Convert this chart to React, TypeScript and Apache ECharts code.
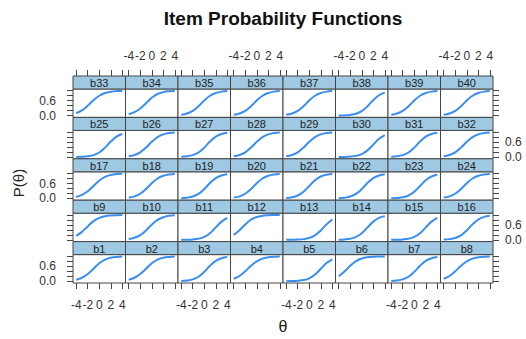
import React, { useEffect, useRef } from "react";
import * as echarts from "echarts";

const chartTitle = "Item Probability Functions";
const xAxisTitle = "θ";
const yAxisTitle = "P(θ)";
const thetaValues = [-4, -3, -2, -1, 0, 1, 2, 3, 4];
const xTickValues = [-4, -2, 0, 2, 4];
const yTickValues = [0, 0.2, 0.4, 0.6, 0.8, 1.0];
const yLabelValues = [0, 0.6];
const itemLabels = Array.from({ length: 40 }, (_, i) => "b" + (i + 1));

// probability at theta = -4..4
const itemCurves: number[][] = [
  [0.06, 0.14, 0.29, 0.5, 0.72, 0.87, 0.945, 0.978, 0.99], // b1
  [0.06, 0.14, 0.29, 0.5, 0.72, 0.87, 0.945, 0.978, 0.99], // b2
  [0.011, 0.029, 0.076, 0.182, 0.378, 0.622, 0.818, 0.924, 0.971], // b3
  [0.1, 0.21, 0.4, 0.62, 0.8, 0.91, 0.96, 0.985, 0.994], // b4
  [0.0025, 0.007, 0.018, 0.047, 0.119, 0.269, 0.5, 0.731, 0.881], // b5
  [0.2, 0.39, 0.62, 0.81, 0.915, 0.965, 0.986, 0.995, 0.998], // b6
  [0.011, 0.029, 0.076, 0.182, 0.378, 0.622, 0.818, 0.924, 0.971], // b7
  [0.1, 0.21, 0.4, 0.62, 0.8, 0.91, 0.96, 0.985, 0.994], // b8
  [0.16, 0.32, 0.54, 0.75, 0.88, 0.95, 0.98, 0.992, 0.997], // b9
  [0.035, 0.085, 0.19, 0.38, 0.61, 0.8, 0.91, 0.965, 0.986], // b10
  [0.0025, 0.007, 0.018, 0.047, 0.119, 0.269, 0.5, 0.731, 0.881], // b11
  [0.2, 0.39, 0.62, 0.81, 0.915, 0.965, 0.986, 0.995, 0.998], // b12
  [0.0015, 0.004, 0.011, 0.029, 0.076, 0.182, 0.378, 0.622, 0.818], // b13
  [0.007, 0.018, 0.047, 0.119, 0.269, 0.5, 0.731, 0.881, 0.953], // b14
  [0.0025, 0.007, 0.018, 0.047, 0.119, 0.269, 0.5, 0.731, 0.881], // b15
  [0.011, 0.029, 0.076, 0.182, 0.378, 0.622, 0.818, 0.924, 0.971], // b16
  [0.06, 0.14, 0.29, 0.5, 0.72, 0.87, 0.945, 0.978, 0.99], // b17
  [0.035, 0.085, 0.19, 0.38, 0.61, 0.8, 0.91, 0.965, 0.986], // b18
  [0.011, 0.029, 0.076, 0.182, 0.378, 0.622, 0.818, 0.924, 0.971], // b19
  [0.035, 0.085, 0.19, 0.38, 0.61, 0.8, 0.91, 0.965, 0.986], // b20
  [0.018, 0.047, 0.119, 0.269, 0.5, 0.731, 0.881, 0.953, 0.982], // b21
  [0.011, 0.029, 0.076, 0.182, 0.378, 0.622, 0.818, 0.924, 0.971], // b22
  [0.007, 0.018, 0.047, 0.119, 0.269, 0.5, 0.731, 0.881, 0.953], // b23
  [0.035, 0.085, 0.19, 0.38, 0.61, 0.8, 0.91, 0.965, 0.986], // b24
  [0.004, 0.011, 0.029, 0.076, 0.182, 0.378, 0.622, 0.818, 0.924], // b25
  [0.035, 0.085, 0.19, 0.38, 0.61, 0.8, 0.91, 0.965, 0.986], // b26
  [0.011, 0.029, 0.076, 0.182, 0.378, 0.622, 0.818, 0.924, 0.971], // b27
  [0.035, 0.085, 0.19, 0.38, 0.61, 0.8, 0.91, 0.965, 0.986], // b28
  [0.035, 0.085, 0.19, 0.38, 0.61, 0.8, 0.91, 0.965, 0.986], // b29
  [0.0025, 0.007, 0.018, 0.047, 0.119, 0.269, 0.5, 0.731, 0.881], // b30
  [0.011, 0.029, 0.076, 0.182, 0.378, 0.622, 0.818, 0.924, 0.971], // b31
  [0.035, 0.085, 0.19, 0.38, 0.61, 0.8, 0.91, 0.965, 0.986], // b32
  [0.1, 0.21, 0.4, 0.62, 0.8, 0.91, 0.96, 0.985, 0.994], // b33
  [0.06, 0.14, 0.29, 0.5, 0.72, 0.87, 0.945, 0.978, 0.99], // b34
  [0.035, 0.085, 0.19, 0.38, 0.61, 0.8, 0.91, 0.965, 0.986], // b35
  [0.035, 0.085, 0.19, 0.38, 0.61, 0.8, 0.91, 0.965, 0.986], // b36
  [0.035, 0.085, 0.19, 0.38, 0.61, 0.8, 0.91, 0.965, 0.986], // b37
  [0.004, 0.011, 0.029, 0.076, 0.182, 0.378, 0.622, 0.818, 0.924], // b38
  [0.035, 0.085, 0.19, 0.38, 0.61, 0.8, 0.91, 0.965, 0.986], // b39
  [0.035, 0.085, 0.19, 0.38, 0.61, 0.8, 0.91, 0.965, 0.986], // b40
];

const NCOL = 8;
const NROW = 5;
const LEFT0 = 73;
const COLW = 52.5;
const TOP0 = 76;
const ROWH = 41.4;
const STRIPH = 13;
const XMIN = -4.56;
const XMAX = 4.56;
const YMIN = -0.07;
const YMAX = 1.07;
const FONT = "Liberation Sans, Arial, sans-serif";
const BORDER = "#444";
const STRIP_FILL = "#9fc9e3";
const LINE_COLOR = "#3a8ef0";
const TEXT_COLOR = "#333";

export default function App() {
  const ref = useRef<HTMLDivElement>(null);
  useEffect(() => {
    if (!ref.current) return;
    const chart = echarts.init(ref.current, null, { renderer: "svg" });
    const grids: any[] = [];
    const xAxes: any[] = [];
    const yAxes: any[] = [];
    const series: any[] = [];
    const graphics: any[] = [];

    const tickStyle = { show: true, length: 6, inside: false, lineStyle: { color: BORDER, width: 1 } };
    const noLine = { show: false, onZero: false };

    itemLabels.forEach((label, i) => {
      const col = i % NCOL;
      const r = NROW - 1 - Math.floor(i / NCOL);
      const left = LEFT0 + col * COLW;
      const rowTop = TOP0 + r * ROWH;
      const gIdx = grids.length;
      grids.push({
        left,
        top: rowTop + STRIPH,
        width: COLW,
        height: ROWH - STRIPH,
        show: true,
        borderColor: BORDER,
        borderWidth: 1,
        backgroundColor: "#fff",
        containLabel: false,
      });
      const xIdx = xAxes.length;
      const isBottom = r === NROW - 1;
      xAxes.push({
        gridIndex: gIdx,
        type: "value",
        min: XMIN,
        max: XMAX,
        position: "bottom",
        show: isBottom,
        axisLine: noLine,
        axisTick: { ...tickStyle, customValues: xTickValues },
        axisLabel: {
          show: isBottom && col % 2 === 0,
          customValues: xTickValues,
          fontSize: 12,
          fontFamily: FONT,
          color: TEXT_COLOR,
          margin: 16,
          formatter: (v: number) => String(v),
        },
        splitLine: { show: false },
      });
      if (r === 0) {
        xAxes.push({
          gridIndex: gIdx,
          type: "value",
          min: XMIN,
          max: XMAX,
          position: "top",
          offset: STRIPH,
          axisLine: noLine,
          axisTick: { ...tickStyle, customValues: xTickValues },
          axisLabel: {
            show: col % 2 === 1,
            customValues: xTickValues,
            fontSize: 12,
            fontFamily: FONT,
            color: TEXT_COLOR,
            margin: 14,
            formatter: (v: number) => String(v),
          },
          splitLine: { show: false },
        });
      }
      const yIdx = yAxes.length;
      const isLeft = col === 0;
      yAxes.push({
        gridIndex: gIdx,
        type: "value",
        min: YMIN,
        max: YMAX,
        position: "left",
        show: isLeft,
        axisLine: noLine,
        axisTick: { ...tickStyle, customValues: yTickValues },
        axisLabel: {
          show: isLeft && r % 2 === 0,
          customValues: yLabelValues,
          fontSize: 12,
          fontFamily: FONT,
          color: TEXT_COLOR,
          margin: 17,
          formatter: (v: number) => v.toFixed(1),
        },
        splitLine: { show: false },
      });
      if (col === NCOL - 1) {
        yAxes.push({
          gridIndex: gIdx,
          type: "value",
          min: YMIN,
          max: YMAX,
          position: "right",
          axisLine: noLine,
          axisTick: { ...tickStyle, customValues: yTickValues },
          axisLabel: {
            show: r % 2 === 1,
            customValues: yLabelValues,
            fontSize: 12,
            fontFamily: FONT,
            color: TEXT_COLOR,
            margin: 12,
            formatter: (v: number) => v.toFixed(1),
          },
          splitLine: { show: false },
        });
      }
      series.push({
        type: "line",
        xAxisIndex: xIdx,
        yAxisIndex: yIdx,
        data: thetaValues.map((t, k) => [t, itemCurves[i][k]]),
        showSymbol: false,
        smooth: 0.4,
        lineStyle: { color: LINE_COLOR, width: 2 },
        silent: true,
      });
      graphics.push({
        type: "rect",
        shape: { x: left, y: rowTop, width: COLW, height: STRIPH },
        style: { fill: STRIP_FILL, stroke: BORDER, lineWidth: 1 },
        z: 10,
      });
      graphics.push({
        type: "text",
        x: left + COLW / 2,
        y: rowTop + STRIPH / 2 + 0.5,
        style: {
          text: label,
          fill: "#222",
          font: `11px ${FONT}`,
          align: "center",
          verticalAlign: "middle",
        },
        z: 11,
      });
    });

    graphics.push({
      type: "text",
      x: 283,
      y: 18,
      style: {
        text: chartTitle,
        fill: "#111",
        font: `bold 19px ${FONT}`,
        align: "center",
        verticalAlign: "middle",
      },
    });
    graphics.push({
      type: "text",
      x: 283,
      y: 326,
      style: {
        text: xAxisTitle,
        fill: "#222",
        font: `16px ${FONT}`,
        align: "center",
        verticalAlign: "middle",
      },
    });
    graphics.push({
      type: "text",
      x: 18,
      y: 183,
      rotation: Math.PI / 2,
      style: {
        text: yAxisTitle,
        fill: "#222",
        font: `15px ${FONT}`,
        align: "center",
        verticalAlign: "middle",
      },
    });

    chart.setOption({
      animation: false,
      backgroundColor: "#fff",
      grid: grids,
      xAxis: xAxes,
      yAxis: yAxes,
      series,
      graphic: graphics,
    });
    return () => chart.dispose();
  }, []);
  return (
    <div
      ref={ref}
      style={{ position: "fixed", left: 0, top: 0, width: 526, height: 339 }}
    />
  );
}
